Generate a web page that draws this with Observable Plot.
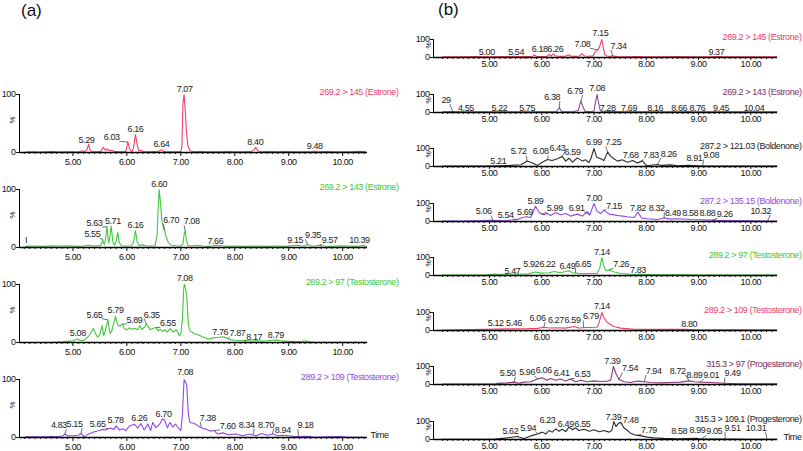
<!DOCTYPE html>
<html><head><meta charset="utf-8">
<script src="https://cdn.jsdelivr.net/npm/d3@7"></script>
<script src="https://cdn.jsdelivr.net/npm/@observablehq/plot@0.6"></script>
<style>
body{margin:0;background:#fff;}
#root{position:relative;width:803px;height:451px;overflow:hidden;font-family:"Liberation Sans",Arial,sans-serif;background:#fff;}
.panel{position:absolute;}
.tag{position:absolute;font-size:17px;color:#111;font-family:"Liberation Sans",Arial,sans-serif;}
</style></head><body><div id="root">
<div class="tag" style="left:21px;top:1px">(a)</div>
<div class="tag" style="left:438px;top:0px">(b)</div>
</div>
<script>
// ---------- tick labels ----------
const majorTicks = [5, 6, 7, 8, 9, 10];
const majorTickLabels = ["5.00", "6.00", "7.00", "8.00", "9.00", "10.00"];
const yTicks = [0, 100];

// ---------- titles ----------
const titlesA = ["269.2 > 145 (Estrone)", "269.2 > 143 (Estrone)", "289.2 > 97 (Testosterone)", "289.2 > 109 (Testosterone)"];
const titlesB = ["269.2 > 145 (Estrone)", "269.2 > 143 (Estrone)", "287.2 > 121.03 (Boldenone)", "287.2 > 135.15 (Boldenone)",
  "289.2 > 97 (Testosterone)", "289.2 > 109 (Testosterone)", "315.3 > 97 (Progesterone)", "315.3 > 109.1 (Progesterone)"];

// ---------- traces: [time (min), intensity (%)] ----------
const a1Trace = [[4.12,0.8],[4.25,1.2],[4.35,0.6],[4.5,1],[4.62,1.5],[4.75,0.8],[4.9,1],[5.0,1.3],[5.1,0.8],[5.17,3],[5.22,1],[5.26,5],[5.29,14],[5.32,4],[5.36,1],[5.45,1.2],[5.52,2],[5.56,9],[5.6,4],[5.64,6],[5.68,3],[5.72,4],[5.78,1.5],[5.85,1],[5.93,1.2],[5.98,2],[6.0,10],[6.02,18],[6.05,6],[6.09,1.5],[6.12,6],[6.16,31],[6.19,14],[6.22,3],[6.26,3.5],[6.32,1.5],[6.4,1],[6.5,1.5],[6.58,1.2],[6.64,5],[6.68,2],[6.75,1],[6.85,1.3],[6.95,1],[7.0,2],[7.02,10],[7.04,85],[7.06,100],[7.08,75],[7.1,40],[7.13,12],[7.17,3],[7.25,1],[7.35,1.5],[7.45,1],[7.6,1.2],[7.75,1],[7.9,1.5],[8.0,1],[8.15,1.2],[8.3,1.5],[8.36,5],[8.39,9],[8.43,3],[8.5,1],[8.65,1.5],[8.8,1.2],[8.95,1.5],[9.1,1],[9.25,1.3],[9.4,1],[9.48,2.5],[9.55,1],[9.7,1.5],[9.85,1],[10.0,1.2],[10.15,1],[10.3,2],[10.38,1.5],[10.42,1]];
const a2Trace = [[4.12,2],[4.3,2.5],[4.45,2],[4.6,3],[4.75,2.5],[4.9,3],[5.0,2.5],[5.1,2],[5.2,2.5],[5.3,4],[5.36,2.5],[5.45,3],[5.5,3],[5.53,6],[5.55,14],[5.58,5],[5.6,12],[5.63,36],[5.66,8],[5.68,15],[5.71,37],[5.74,10],[5.77,4],[5.8,10],[5.83,26],[5.86,8],[5.9,3],[6.0,2.5],[6.08,3],[6.12,8],[6.16,29],[6.19,10],[6.23,3],[6.29,4.5],[6.35,3],[6.45,2.5],[6.52,3],[6.56,20],[6.58,70],[6.6,100],[6.62,80],[6.65,45],[6.68,32],[6.7,30],[6.72,20],[6.74,16],[6.77,8],[6.82,4],[6.9,3],[7.0,2.5],[7.04,6],[7.06,22],[7.08,30],[7.1,15],[7.13,4],[7.2,2.5],[7.3,4],[7.4,2.5],[7.5,2],[7.6,3],[7.66,4],[7.75,3],[7.9,2],[8.0,2.5],[8.2,2],[8.4,2.5],[8.6,2],[8.8,2.5],[8.95,2],[9.05,3],[9.15,4],[9.22,2.5],[9.3,3],[9.35,5],[9.42,2.5],[9.5,3],[9.57,4],[9.65,2.5],[9.8,2],[9.95,3],[10.1,2.5],[10.25,2],[10.39,3.5],[10.44,2]];
const a3Trace = [[4.12,0],[4.5,0],[4.7,0.5],[4.82,1],[4.9,2],[5.0,3],[5.09,6],[5.14,3],[5.2,4],[5.25,7],[5.3,12],[5.38,24],[5.42,15],[5.46,9],[5.5,14],[5.54,29],[5.57,12],[5.6,20],[5.65,39],[5.69,15],[5.72,20],[5.76,35],[5.79,45],[5.83,30],[5.87,28],[5.92,32],[5.95,24],[5.99,22],[6.05,25],[6.1,23],[6.16,24],[6.2,22],[6.24,29],[6.28,22],[6.32,26],[6.36,32],[6.4,27],[6.43,22],[6.48,24],[6.54,26],[6.58,20],[6.62,23],[6.66,19],[6.7,22],[6.75,18],[6.8,24],[6.86,18],[6.92,22],[6.97,12],[7.0,15],[7.03,40],[7.055,95],[7.07,100],[7.09,92],[7.11,80],[7.14,30],[7.17,20],[7.2,18],[7.25,15],[7.33,13],[7.4,10],[7.5,6],[7.6,8],[7.71,9],[7.78,10],[7.84,8],[7.9,5],[8.0,4],[8.1,3],[8.2,3.5],[8.3,2.5],[8.4,3],[8.5,2.5],[8.6,3],[8.7,4],[8.78,4.5],[8.85,3],[8.95,2],[9.05,2],[9.15,1.5],[9.25,2],[9.32,3],[9.38,1],[9.5,0.5],[10.4,0.5]];
const a4Trace = [[4.12,1],[4.4,1],[4.6,1.5],[4.75,2],[4.81,2.5],[4.85,6],[4.9,3],[5.0,3],[5.1,4],[5.15,7],[5.21,1],[5.27,5],[5.35,8],[5.4,10],[5.49,12],[5.55,14],[5.6,13],[5.65,15],[5.7,16],[5.76,14],[5.8,20],[5.86,13],[5.92,15],[5.98,12],[6.05,20],[6.14,23],[6.2,16],[6.26,24],[6.32,13],[6.39,23],[6.44,12],[6.48,26],[6.54,17],[6.6,22],[6.66,32],[6.7,30],[6.75,17],[6.8,26],[6.85,18],[6.9,23],[6.96,16],[7.0,12],[7.03,40],[7.06,100],[7.08,97],[7.11,90],[7.14,40],[7.17,26],[7.25,24],[7.32,20],[7.4,16],[7.48,14],[7.55,11],[7.62,12],[7.68,6],[7.78,8],[7.87,5],[8.02,6],[8.15,3],[8.27,6],[8.39,3],[8.5,7],[8.6,4],[8.7,6],[8.8,3],[8.9,4],[9.0,3],[9.1,2],[9.2,1.5],[9.35,2],[9.5,0.5],[9.7,1],[9.95,1.5],[10.1,0.5],[10.4,0.5]];

const b1Trace = [[4.1,4],[4.4,4],[4.7,5],[5.0,4],[5.2,5],[5.4,5],[5.46,7],[5.55,5],[5.7,5],[5.82,6],[5.86,15],[5.9,6],[6.0,5],[6.1,6],[6.15,18],[6.18,8],[6.22,20],[6.26,10],[6.35,6],[6.45,7],[6.52,15],[6.56,7],[6.65,6],[6.72,8],[6.77,22],[6.82,8],[6.9,7],[6.98,9],[7.02,30],[7.05,38],[7.07,42],[7.1,55],[7.15,100],[7.18,50],[7.21,15],[7.25,8],[7.3,6],[7.36,8],[7.45,5],[7.6,4],[7.8,5],[8.0,4],[8.3,4],[8.6,5],[8.9,4],[9.2,4],[9.37,5],[9.6,4],[10.0,4],[10.3,4],[10.5,4]];
const b2Trace = [[4.1,4],[4.3,5],[4.5,4],[5.0,4],[5.5,4],[6.0,4],[6.28,5],[6.31,15],[6.34,27],[6.37,8],[6.42,4],[6.6,4],[6.7,12],[6.75,65],[6.79,30],[6.83,6],[6.95,4],[7.0,8],[7.03,60],[7.06,100],[7.09,50],[7.12,10],[7.16,4],[7.3,5],[7.6,4],[8.0,4],[8.5,4],[9.0,4],[9.5,4],[10.0,4],[10.5,4]];
const b3Trace = [[4.1,3],[4.5,3],[4.9,3],[5.15,4],[5.4,6],[5.6,10],[5.72,30],[5.82,19],[5.92,6],[6.01,24],[6.11,39],[6.2,33],[6.3,43],[6.39,56],[6.46,30],[6.52,46],[6.59,24],[6.68,48],[6.78,30],[6.84,37],[6.9,22],[6.94,43],[7.0,100],[7.05,52],[7.13,43],[7.19,33],[7.26,80],[7.32,56],[7.38,43],[7.45,30],[7.54,37],[7.64,24],[7.74,33],[7.83,19],[7.93,30],[8.01,4],[8.09,7],[8.21,11],[8.3,6],[8.47,9],[8.6,4],[8.8,6],[8.98,4],[9.1,3],[9.3,2],[9.6,2],[10.0,2],[10.5,2]];
const b4Trace = [[4.1,2],[4.5,2],[5.02,7],[5.3,4],[5.53,11],[5.63,22],[5.72,26],[5.79,22],[5.88,85],[5.95,50],[6.04,37],[6.11,44],[6.17,33],[6.27,50],[6.36,37],[6.46,44],[6.55,30],[6.68,41],[6.78,30],[6.87,56],[6.92,37],[7.0,100],[7.06,56],[7.13,44],[7.19,63],[7.29,41],[7.38,37],[7.51,31],[7.64,26],[7.77,22],[7.84,52],[7.91,19],[8.02,15],[8.21,11],[8.34,19],[8.47,13],[8.6,15],[8.86,11],[9.11,9],[9.37,6],[9.6,5],[10.0,4],[10.3,3],[10.5,3]];
const b5Trace = [[4.1,2],[4.9,3],[5.09,6],[5.47,7],[5.73,9],[5.88,19],[5.98,13],[6.14,15],[6.24,22],[6.36,15],[6.46,22],[6.52,26],[6.59,15],[6.75,11],[6.94,11],[7.06,11],[7.11,41],[7.15,100],[7.19,50],[7.23,26],[7.29,31],[7.39,19],[7.51,11],[7.7,7],[7.9,6],[8.15,4],[8.45,4],[8.7,4],[9.0,3],[10.5,3]];
const b6Trace = [[4.1,3],[4.9,6],[5.4,9],[5.7,10],[5.92,12],[6.04,18],[6.15,14],[6.3,15],[6.45,13],[6.62,22],[6.7,14],[6.88,17],[7.06,18],[7.1,46],[7.15,100],[7.19,70],[7.25,46],[7.38,22],[7.51,13],[7.77,7],[8.4,6],[8.72,7],[9.0,4],[9.5,4],[10.5,4]];
const b7Trace = [[4.1,2],[5.1,2],[5.15,6],[5.34,9],[5.47,13],[5.56,7],[5.66,13],[5.79,15],[5.92,31],[6.01,37],[6.1,24],[6.17,33],[6.27,24],[6.36,31],[6.46,20],[6.55,31],[6.65,15],[6.75,24],[6.87,15],[7.0,20],[7.13,17],[7.26,19],[7.32,24],[7.37,100],[7.42,61],[7.48,28],[7.58,15],[7.7,11],[7.83,19],[7.96,15],[8.09,11],[8.28,9],[8.46,11],[8.66,13],[8.82,20],[8.92,15],[9.04,13],[9.24,11],[9.49,7],[9.75,4],[10.0,4],[10.5,4]];
const b8Trace = [[4.1,1],[5.1,2],[5.34,9],[5.53,17],[5.66,6],[5.79,20],[5.92,31],[6.01,41],[6.08,31],[6.14,50],[6.2,41],[6.27,59],[6.33,46],[6.39,57],[6.46,44],[6.52,69],[6.59,54],[6.65,65],[6.71,50],[6.81,57],[6.91,46],[7.0,54],[7.1,43],[7.19,50],[7.29,41],[7.34,50],[7.38,100],[7.42,72],[7.46,87],[7.51,96],[7.57,65],[7.64,50],[7.7,35],[7.8,24],[7.9,20],[8.02,13],[8.15,9],[8.34,6],[8.6,4],[8.98,6],[9.05,2],[9.5,2],[10.0,1],[10.5,1]];

// ---------- peak labels: [text, peak time, peak %, label time, label %, leader] ----------
const a1Labels = [["5.29",5.29,14,5.25,21,0],["6.03",6.02,18,5.72,26,1],["6.16",6.16,31,6.16,41,0],["6.64",6.64,5,6.64,14,0],["7.07",7.06,100,7.07,110,0],["8.40",8.39,9,8.38,18,0],["9.48",9.48,2.5,9.48,11,0]];
const a2Labels = [["I",4.13,3,4.13,12,0],["5.55",5.55,14,5.36,23,1],["5.63",5.63,36,5.40,42,1],["5.71",5.71,37,5.74,46,0],["6.16",6.16,29,6.16,38,0],["6.60",6.60,100,6.60,110,0],["6.70",6.70,30,6.82,48,1],["7.08",7.08,30,7.20,45,1],["7.66",7.66,4,7.64,11,0],["9.15",9.15,4,9.12,12,0],["9.35",9.35,5,9.45,21,1],["9.57",9.57,4,9.76,12,1],["10.39",10.39,3.5,10.31,12,0]];
const a3Labels = [["5.08",5.09,6,5.09,17,0],["5.65",5.65,39,5.40,48,1],["5.79",5.79,45,5.79,55,0],["5.89",5.92,32,6.14,39,1],["6.35",6.36,32,6.46,48,1],["6.55",6.54,26,6.76,33,1],["7.08",7.07,100,7.07,111,0],["7.76",7.78,10,7.73,18,0],["7.87",7.87,6,8.05,17,1],["8.17",8.17,3,8.36,10,1],["8.79",8.78,4.5,8.76,12,0]];
const a4Labels = [["4.83",4.85,6,4.74,21,1],["5.15",5.15,7,5.03,23,1],["5.65",5.65,15,5.46,23,1],["5.78",5.80,20,5.79,30,0],["6.26",6.26,24,6.23,34,0],["6.70",6.70,30,6.68,40,0],["7.08",7.06,100,7.08,112,0],["7.38",7.38,18,7.50,34,1],["7.60",7.62,12,7.87,20,1],["8.34",8.34,5,8.22,22,1],["8.70",8.70,6,8.58,22,1],["8.94",8.94,4,8.89,13,0],["9.18",9.18,2,9.31,21,1]];

const b1Labels = [["5.00",5.0,4,4.95,31,0],["5.54",5.54,5,5.51,31,0],["6.18",6.15,18,5.96,46,0],["6.26",6.22,20,6.26,46,0],["7.08",7.07,42,6.78,74,1],["7.15",7.15,100,7.12,133,0],["7.34",7.36,8,7.47,65,1],["9.37",9.37,5,9.34,31,0]];
const b2Labels = [["29",4.30,3,4.17,69,1],["4.55",4.55,4,4.55,27,0],["5.22",5.22,4,5.19,27,0],["5.75",5.75,4,5.72,27,0],["6.38",6.34,27,6.20,85,1],["6.79",6.75,65,6.64,119,1],["7.08",7.06,100,7.06,137,0],["7.28",7.2,4,7.26,27,0],["7.69",7.69,4,7.67,27,0],["8.16",8.16,4,8.17,27,0],["8.66",8.66,4,8.63,27,0],["8.76",8.76,4,8.98,27,1],["9.45",9.45,4,9.43,27,0],["10.04",10.04,4,10.06,27,0]];
const b3Labels = [["5.21",5.21,4,5.17,28,0],["5.72",5.72,30,5.56,83,1],["6.08",6.11,39,5.98,83,1],["6.43",6.39,56,6.30,104,1],["6.59",6.59,24,6.59,80,0],["6.99",7.0,100,7.0,135,0],["7.25",7.26,80,7.37,135,1],["7.68",7.74,33,7.70,61,0],["7.83",7.83,19,8.09,61,1],["8.26",8.21,11,8.43,70,1],["8.91",8.91,4,8.92,48,0],["9.08",9.08,4,9.24,61,1]];
const b4Labels = [["5.06",5.06,4,4.89,56,1],["5.54",5.53,11,5.31,35,1],["5.69",5.72,26,5.68,50,0],["5.89",5.88,85,5.88,115,0],["5.99",6.0,40,6.25,74,1],["6.91",6.92,37,6.67,74,1],["7.00",7.0,100,7.0,130,0],["7.15",7.19,63,7.38,87,1],["7.82",7.84,52,7.84,74,0],["8.32",8.34,19,8.20,74,1],["8.49",8.47,13,8.51,44,0],["8.58",8.6,15,8.84,44,0],["8.88",8.86,11,9.17,44,0],["9.26",9.26,7,9.50,40,1],["10.32",10.32,3,10.19,59,1]];
const b5Labels = [["5.47",5.47,7,5.44,26,0],["5.92",5.88,19,5.80,63,0],["6.22",6.24,22,6.11,63,0],["6.49",6.46,22,6.49,50,0],["6.65",6.65,12,6.79,63,1],["7.14",7.15,100,7.15,128,0],["7.26",7.29,31,7.52,63,1],["7.83",7.83,6,7.84,31,0]];
const b6Labels = [["5.12",5.12,6,5.12,41,0],["5.46",5.46,9,5.47,41,0],["6.06",6.04,18,5.92,70,1],["6.27",6.27,15,6.27,56,0],["6.59",6.62,22,6.59,56,0],["6.79",6.8,17,6.94,78,1],["7.14",7.15,100,7.15,133,0],["8.80",8.72,7,8.82,37,0]];
const b7Labels = [["5.50",5.47,13,5.35,65,1],["5.96",5.92,31,5.72,70,1],["6.06",6.01,37,6.04,80,0],["6.41",6.36,31,6.38,65,0],["6.53",6.55,31,6.78,57,1],["7.39",7.37,100,7.35,131,0],["7.54",7.48,28,7.69,89,1],["7.94",7.96,15,8.14,76,1],["8.72",8.82,20,8.60,76,1],["8.89",8.92,15,8.92,52,0],["9.01",9.04,13,9.24,52,1],["9.49",9.49,7,9.65,61,1]];
const b8Labels = [["5.62",5.53,17,5.40,44,1],["5.94",5.92,31,5.74,65,1],["6.23",6.27,59,6.11,106,0],["6.49",6.52,69,6.46,87,0],["6.55",6.59,54,6.78,87,0],["7.39",7.38,100,7.37,124,0],["7.48",7.51,96,7.70,106,1],["7.79",7.8,24,8.05,50,1],["8.58",8.6,4,8.63,46,0],["8.99",8.98,6,8.98,50,0],["9.05",9.05,2,9.30,46,1],["9.51",9.51,2,9.65,65,1],["10.31",10.31,1,10.10,65,1]];

// ---------- colours ----------
const RED = "#f0406a", GREEN = "#40c83c", PURPLE = "#9448e0", PLUM = "#8a4a9a", PLUMT = "#7a2f6e", MAROON = "#8b3a78", MAROONT = "#7a2a5a", DARK = "#2a2a2a";

const panelsA = [
  {title: titlesA[0], color: RED, titleColor: RED, trace: a1Trace, labels: a1Labels},
  {title: titlesA[1], color: GREEN, titleColor: GREEN, trace: a2Trace, labels: a2Labels},
  {title: titlesA[2], color: GREEN, titleColor: GREEN, trace: a3Trace, labels: a3Labels},
  {title: titlesA[3], color: PURPLE, titleColor: PURPLE, trace: a4Trace, labels: a4Labels}
];
const panelsB = [
  {title: titlesB[0], color: RED, titleColor: RED, trace: b1Trace, labels: b1Labels},
  {title: titlesB[1], color: PLUM, titleColor: PLUMT, trace: b2Trace, labels: b2Labels},
  {title: titlesB[2], color: DARK, titleColor: "#222", trace: b3Trace, labels: b3Labels},
  {title: titlesB[3], color: PURPLE, titleColor: PURPLE, trace: b4Trace, labels: b4Labels},
  {title: titlesB[4], color: GREEN, titleColor: GREEN, trace: b5Trace, labels: b5Labels},
  {title: titlesB[5], color: RED, titleColor: RED, trace: b6Trace, labels: b6Labels},
  {title: titlesB[6], color: MAROON, titleColor: MAROONT, trace: b7Trace, labels: b7Labels},
  {title: titlesB[7], color: DARK, titleColor: "#222", trace: b8Trace, labels: b8Labels}
];

// ---------- layout ----------
const layoutA = {left: 0, width: 400, mL: 19, mR: 33, mT: 16, plotH: 58, mB: 14, domain: [4.01, 10.46],
  tops: [94, 189, 284, 379], tickSize: 4, tickPad: 2.0, pctDx: -7, pctSize: 8, timeDx: 3};
const layoutB = {left: 413, width: 390, mL: 20, mR: 26, mT: 14, plotH: 18, mB: 11, domain: [3.93, 10.51],
  tops: [39, 93.6, 148.1, 202.7, 257.3, 311.9, 366.4, 421], tickSize: 3, tickPad: 0.2, pctDx: -5, pctSize: 7, timeDx: 6};

const minorTicks = d3.range(41, 105).map(k => k / 10).filter(t => !majorTicks.includes(t));

const root = document.getElementById("root");

function drawPanel(cfg, L, i, isLast) {
  const [d0, d1] = L.domain;
  const pxMin = (L.width - L.mL - L.mR) / (d1 - d0);
  const pxPct = L.plotH / 100;
  const pts = cfg.trace.map(([t, v]) => ({t, v}));
  const labs = cfg.labels.map(([text, pt, pv, lt, lv, lead]) => ({text, pt, pv, lt, lv, lead}));
  const leads = labs.filter(d => d.lead).map(d => {
    const side = d.pt >= d.lt ? 1 : -1;
    const hw = d.text.length * 1.9;
    return {x1: d.lt + side * hw / pxMin, y1: d.lv - 4 / pxPct, x2: d.pt, y2: d.pv};
  });
  const svg = Plot.plot({
    width: L.width,
    height: L.mT + L.plotH + L.mB,
    marginLeft: L.mL, marginRight: L.mR, marginTop: L.mT, marginBottom: L.mB,
    x: {domain: L.domain, label: null},
    y: {domain: [0, 100], label: null},
    style: {background: "transparent", overflow: "visible", fontFamily: "'Liberation Sans', Arial, sans-serif", fontSize: "9px", color: "#111", letterSpacing: "-0.4px"},
    marks: [
      Plot.axisX({ticks: minorTicks, tickSize: 2, fill: "none", label: null, stroke: "#111"}),
      Plot.axisX({ticks: majorTicks, tickSize: L.tickSize, tickPadding: L.tickPad, label: null, stroke: "#111",
        tickFormat: d => majorTickLabels[majorTicks.indexOf(d)]}),
      Plot.axisY({ticks: yTicks, tickSize: 3, tickPadding: 1, label: null, tickFormat: d => String(d)}),
      Plot.text(["%"], {text: d => d, frameAnchor: "left", dx: L.pctDx, rotate: -90, fontSize: L.pctSize, fill: "#111"}),
      Plot.line(pts, {x: "t", y: "v", stroke: cfg.color, strokeWidth: 1.1}),
      Plot.ruleY([0], {stroke: "#000", strokeWidth: 1.4}),
      Plot.ruleX([d0], {y1: 0, y2: 100, stroke: "#000", strokeWidth: 1}),
      Plot.link(leads, {x1: "x1", y1: "y1", x2: "x2", y2: "y2", stroke: "#333", strokeWidth: 0.7}),
      Plot.text(labs, {x: "lt", y: "lv", text: "text", fill: "#222", fontSize: 9}),
      Plot.text([cfg.title], {text: d => d, frameAnchor: "top-right", textAnchor: "end", dx: L.mR - 2, dy: -6.3, fill: cfg.titleColor, fontSize: 9}),
      isLast ? Plot.text(["Time"], {text: d => d, frameAnchor: "bottom-right", textAnchor: "start", dx: L.timeDx, fill: "#111", fontSize: 9}) : null
    ]
  });
  const div = document.createElement("div");
  div.className = "panel";
  div.style.left = L.left + "px";
  div.style.top = (L.tops[i] - L.mT) + "px";
  div.appendChild(svg);
  root.appendChild(div);
}

panelsA.forEach((p, i) => drawPanel(p, layoutA, i, i === panelsA.length - 1));
panelsB.forEach((p, i) => drawPanel(p, layoutB, i, i === panelsB.length - 1));
</script>
</body></html>
